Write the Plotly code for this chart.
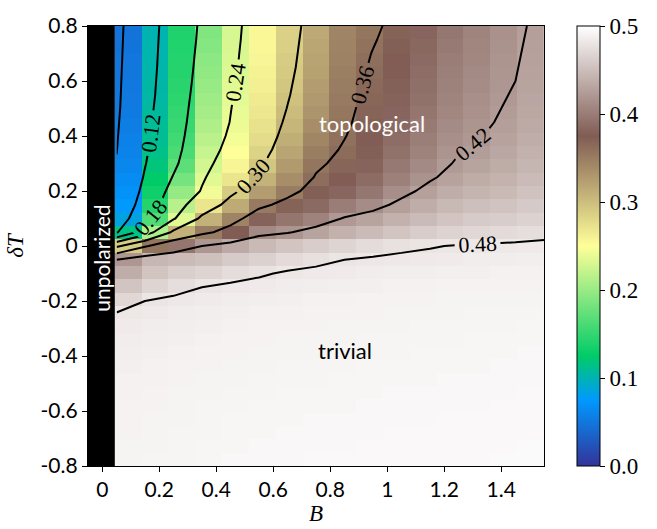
import numpy as np
import plotly.graph_objects as go

# delta T sample values (top to bottom) and B index columns
dT_desc = [0.8, 0.75, 0.7, 0.65, 0.6, 0.55, 0.5, 0.45, 0.4, 0.35, 0.3, 0.25, 0.2, 0.15, 0.1, 0.05,
           0.0, -0.05, -0.1, -0.15, -0.2, -0.25, -0.3, -0.35, -0.4, -0.45, -0.5, -0.55, -0.6, -0.65,
           -0.7, -0.75, -0.8]
B_vals = [0.05, 0.15, 0.25, 0.35, 0.45, 0.55, 0.65, 0.75, 0.85, 0.95, 1.05, 1.15, 1.25, 1.35, 1.45, 1.55]

col1 = [0.047,0.048,0.049,0.050,0.051,0.052,0.053,0.055,0.057,0.059,0.062,0.066,0.070,0.076,0.085,0.115,
        0.29,0.42,0.437,0.455,0.47,0.482,0.485,0.486,0.487,0.488,0.489,0.489,0.49,0.49,0.49,0.491,0.491]
col2 = [0.100,0.101,0.102,0.103,0.104,0.105,0.107,0.109,0.111,0.114,0.118,0.124,0.132,0.143,0.165,0.21,
        0.355,0.445,0.455,0.468,0.48,0.484,0.486,0.487,0.488,0.489,0.489,0.49,0.49,0.491,0.491,0.491,0.492]
col3 = [0.140,0.141,0.142,0.143,0.145,0.147,0.150,0.153,0.157,0.162,0.170,0.183,0.198,0.215,0.235,0.31,
        0.395,0.448,0.463,0.475,0.483,0.486,0.487,0.488,0.489,0.49,0.49,0.491,0.491,0.491,0.492,0.492,0.492]
col4 = [0.188,0.190,0.193,0.196,0.199,0.203,0.207,0.211,0.216,0.222,0.228,0.235,0.243,0.27,0.31,0.35,
        0.42,0.452,0.468,0.48,0.485,0.487,0.488,0.489,0.49,0.49,0.491,0.491,0.492,0.492,0.492,0.493,0.493]
col5 = [0.230,0.231,0.232,0.233,0.235,0.237,0.239,0.241,0.245,0.25,0.258,0.27,0.29,0.315,0.345,0.375,
        0.435,0.46,0.474,0.483,0.486,0.488,0.489,0.49,0.49,0.491,0.491,0.492,0.492,0.493,0.493,0.493,0.494]
col6 = [0.255,0.256,0.258,0.26,0.262,0.265,0.268,0.272,0.277,0.284,0.294,0.308,0.325,0.352,0.38,0.41,
        0.447,0.465,0.478,0.485,0.487,0.489,0.49,0.49,0.491,0.491,0.492,0.492,0.493,0.493,0.493,0.494,0.494]
col7 = [0.285,0.287,0.289,0.291,0.294,0.297,0.301,0.306,0.312,0.319,0.327,0.337,0.35,0.37,0.395,0.418,
        0.455,0.472,0.482,0.486,0.488,0.489,0.49,0.491,0.491,0.492,0.492,0.493,0.493,0.493,0.494,0.494,0.494]
col8 = [0.316,0.318,0.32,0.322,0.325,0.328,0.332,0.337,0.343,0.349,0.355,0.362,0.372,0.386,0.405,0.43,
        0.462,0.476,0.484,0.487,0.489,0.49,0.49,0.491,0.491,0.492,0.492,0.493,0.493,0.494,0.494,0.494,0.495]
col9 = [0.344,0.345,0.346,0.348,0.35,0.352,0.354,0.356,0.359,0.363,0.368,0.374,0.383,0.40,0.422,0.44,
        0.468,0.48,0.485,0.488,0.489,0.49,0.491,0.491,0.492,0.492,0.493,0.493,0.493,0.494,0.494,0.494,0.495]
col10 = [0.355,0.358,0.361,0.363,0.365,0.367,0.369,0.371,0.374,0.377,0.381,0.387,0.396,0.412,0.43,0.448,
         0.473,0.482,0.486,0.488,0.49,0.49,0.491,0.492,0.492,0.493,0.493,0.493,0.494,0.494,0.494,0.495,0.495]
col11 = [0.37,0.372,0.374,0.376,0.378,0.38,0.382,0.385,0.388,0.392,0.397,0.403,0.413,0.426,0.44,0.455,
         0.477,0.483,0.487,0.489,0.49,0.491,0.491,0.492,0.492,0.493,0.493,0.494,0.494,0.494,0.495,0.495,0.495]
col12 = [0.382,0.384,0.386,0.388,0.39,0.392,0.395,0.398,0.401,0.405,0.41,0.417,0.427,0.437,0.448,0.462,
         0.479,0.484,0.487,0.489,0.49,0.491,0.492,0.492,0.493,0.493,0.493,0.494,0.494,0.494,0.495,0.495,0.495]
col13 = [0.396,0.398,0.40,0.402,0.404,0.406,0.408,0.411,0.414,0.418,0.423,0.429,0.437,0.446,0.455,0.467,
         0.481,0.485,0.488,0.49,0.491,0.491,0.492,0.492,0.493,0.493,0.494,0.494,0.494,0.495,0.495,0.495,0.495]
col14 = [0.406,0.407,0.408,0.41,0.412,0.414,0.416,0.418,0.421,0.425,0.43,0.436,0.443,0.451,0.46,0.47,
         0.482,0.486,0.488,0.49,0.491,0.492,0.492,0.493,0.493,0.493,0.494,0.494,0.494,0.495,0.495,0.495,0.495]
col15 = [0.416,0.417,0.418,0.419,0.42,0.422,0.424,0.426,0.429,0.432,0.436,0.441,0.447,0.454,0.462,0.472,
         0.483,0.486,0.489,0.49,0.491,0.492,0.492,0.493,0.493,0.494,0.494,0.494,0.495,0.495,0.495,0.495,0.496]
col16 = [0.426,0.427,0.428,0.429,0.43,0.431,0.433,0.435,0.437,0.44,0.444,0.448,0.453,0.459,0.466,0.475,
         0.484,0.487,0.489,0.49,0.491,0.492,0.493,0.493,0.494,0.494,0.494,0.495,0.495,0.495,0.495,0.496,0.496]

columns = [col1, col2, col3, col4, col5, col6, col7, col8, col9, col10,
           col11, col12, col13, col14, col15, col16]

x_ticks = [0, 0.2, 0.4, 0.6, 0.8, 1.0, 1.2, 1.4]
x_ticktext = ["0", "0.2", "0.4", "0.6", "0.8", "1", "1.2", "1.4"]
y_ticks = [-0.8, -0.6, -0.4, -0.2, 0, 0.2, 0.4, 0.6, 0.8]
y_ticktext = ["-0.8", "-0.6", "-0.4", "-0.2", "0", "0.2", "0.4", "0.6", "0.8"]
cb_ticks = [0.0, 0.1, 0.2, 0.3, 0.4, 0.5]
cb_ticktext = ["0.0", "0.1", "0.2", "0.3", "0.4", "0.5"]

# build grid (rows ascending in dT)
Z = np.array(columns).T[::-1]
dT_asc = dT_desc[::-1]

XMIN, XMAX, YMIN, YMAX = -0.05, 1.55, -0.8, 0.8
ncols_img = 17
nrows_img = 33
w = (XMAX - XMIN) / ncols_img
h = (YMAX - YMIN) / nrows_img

terrain = [[0.0, "rgb(51,51,153)"], [0.15, "rgb(0,153,255)"], [0.25, "rgb(0,204,102)"],
           [0.5, "rgb(255,255,153)"], [0.75, "rgb(128,92,84)"], [1.0, "rgb(255,255,255)"]]

serif = "Liberation Serif"
sans = "Lato"

fig = go.Figure()
fig.add_trace(go.Heatmap(
    z=Z.tolist(), x0=XMIN + 1.5 * w, dx=w, y0=YMIN + 0.5 * h, dy=h,
    colorscale=terrain, zmin=0, zmax=0.5, hoverinfo="skip",
    colorbar=dict(
        x=1.072, xanchor="left", xpad=0, ypad=0, y=0.5, yanchor="middle",
        len=1, lenmode="fraction", thickness=23,
        outlinewidth=1, outlinecolor="black",
        tickvals=cb_ticks, ticktext=cb_ticktext, ticks="outside", ticklen=5,
        tickcolor="black", tickfont=dict(family=serif, size=23, color="black"),
    ),
))
fig.add_trace(go.Contour(
    z=Z.tolist(), x=B_vals, y=dT_asc, showscale=False, hoverinfo="skip",
    contours=dict(coloring="none", start=0.06, end=0.48, size=0.06,
                  showlabels=True, labelformat=".2f",
                  labelfont=dict(family=serif, size=22, color="black")),
    line=dict(color="black", width=2, smoothing=0),
))

fig.add_shape(type="rect", x0=XMIN, x1=XMIN + w, y0=YMIN, y1=YMAX,
              fillcolor="black", line=dict(width=0), layer="above")

fig.add_annotation(x=XMIN + 0.5 * w, y=-0.045, text="unpolarized", textangle=-90,
                   showarrow=False, font=dict(family=sans, size=21, color="white"))
fig.add_annotation(x=0.946, y=0.445, text="topological", showarrow=False,
                   font=dict(family=sans, size=22, color="white"))
fig.add_annotation(x=0.852, y=-0.379, text="trivial", showarrow=False,
                   font=dict(family=sans, size=22, color="black"))

fig.update_layout(
    width=657, height=529, margin=dict(l=88, r=113, t=17, b=56),
    paper_bgcolor="white", plot_bgcolor="white", showlegend=False,
    xaxis=dict(range=[XMIN, XMAX], tickvals=x_ticks, ticktext=x_ticktext,
               ticks="outside", ticklen=5, tickcolor="black", showline=True,
               linecolor="black", linewidth=1.2, mirror=True, showgrid=False,
               zeroline=False, tickfont=dict(family=sans, size=21, color="black"),
               title=dict(text="<i>B</i>", font=dict(family=serif, size=23, color="black"),
                          standoff=0)),
    yaxis=dict(range=[YMIN, YMAX], tickvals=y_ticks, ticktext=y_ticktext,
               ticks="outside", ticklen=5, tickcolor="black", showline=True,
               linecolor="black", linewidth=1.2, mirror=True, showgrid=False,
               zeroline=False, tickfont=dict(family=sans, size=21, color="black"),
               title=dict(text="<i>δT</i>", font=dict(family=serif, size=23, color="black"),
                          standoff=10)),
)

fig.write_html("out.html")
